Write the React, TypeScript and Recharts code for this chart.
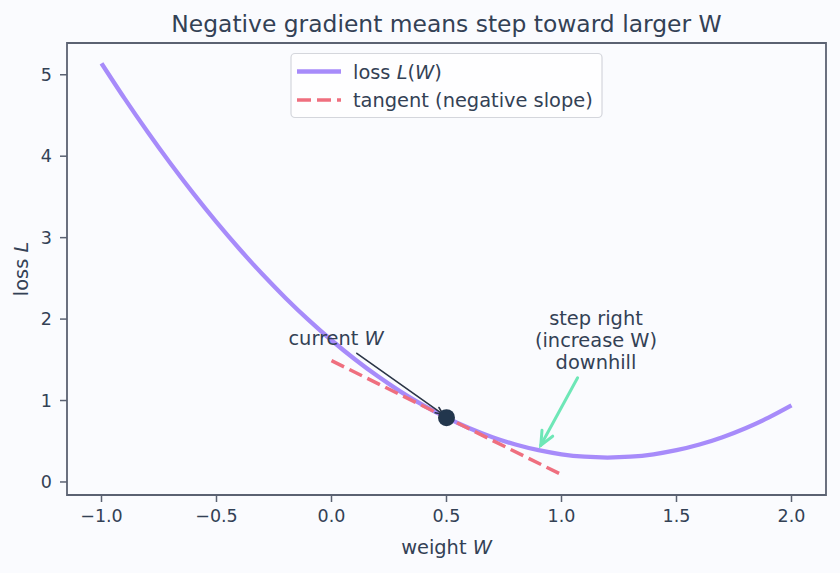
import React from 'react';
import {
  ComposedChart,
  Line,
  XAxis,
  YAxis,
  ReferenceLine,
  ReferenceDot,
  ReferenceArea,
} from 'recharts';

// ---- data ----
const weights = [
  -1.0, -0.9, -0.8, -0.7, -0.6, -0.5, -0.4, -0.3, -0.2, -0.1,
  0.0, 0.1, 0.2, 0.3, 0.4, 0.5, 0.6, 0.7, 0.8, 0.9,
  1.0, 1.1, 1.2, 1.3, 1.4, 1.5, 1.6, 1.7, 1.8, 1.9, 2.0,
];
const lossValues = [
  5.14, 4.71, 4.3, 3.91, 3.54, 3.19, 2.86, 2.55, 2.26, 1.99,
  1.74, 1.51, 1.3, 1.11, 0.94, 0.79, 0.66, 0.55, 0.46, 0.39,
  0.34, 0.31, 0.3, 0.31, 0.34, 0.39, 0.46, 0.55, 0.66, 0.79, 0.94,
];
const tangentWeights = [0.0, 1.0];
const tangentValues = [1.49, 0.09];
const currentPoint = { w: 0.5, loss: 0.79 };
const xTicks = [-1.0, -0.5, 0.0, 0.5, 1.0, 1.5, 2.0];
const yTicks = [0, 1, 2, 3, 4, 5];
const xDomain = [-1.15, 2.15];
const yDomain = [-0.16, 5.39];
const currentArrow = [
  { w: 0.11, loss: 1.58 },
  { w: 0.485, loss: 0.83 },
];
const stepArrow = [
  { w: 1.07, loss: 1.28 },
  { w: 0.91, loss: 0.45 },
];
const currentLabelPos = { w: 0.02, loss: 1.77 };
const stepLabelPos = { w: 1.15, loss: 1.74 };
const stepLabelLines = ['step right', '(increase W)', 'downhill'];
const titleText = 'Negative gradient means step toward larger W';

const lossData = weights.map((w, i) => ({ w, loss: lossValues[i] }));
const tangentData = tangentWeights.map((w, i) => ({ w, tangent: tangentValues[i] }));

// ---- styles ----
const FONT = "'DejaVu Sans', sans-serif";
const TEXT = '#334155';
const FRAME = '#5b6272';
const LOSS_COLOR = '#a78bfa';
const TANGENT_COLOR = '#ef6f7f';
const GREEN = '#6ee7b7';
const DARK = '#2b3547';
const POINT = '#22364d';
const BG = '#fafbfe';

const W = 840;
const H = 573;
const PLOT = { left: 67, top: 43, right: 826, bottom: 495 };

const fmt = (v: number) => v.toFixed(1).replace('-', '\u2212');

function arrowShape(color: string, width: number, headLen: number) {
  return (props: any) => {
    const { x1, y1, x2, y2 } = props;
    const ang = Math.atan2(y2 - y1, x2 - x1);
    const spread = (24 * Math.PI) / 180;
    const ax = x2 - headLen * Math.cos(ang - spread);
    const ay = y2 - headLen * Math.sin(ang - spread);
    const bx = x2 - headLen * Math.cos(ang + spread);
    const by = y2 - headLen * Math.sin(ang + spread);
    return (
      <g>
        <line x1={x1} y1={y1} x2={x2} y2={y2} stroke={color} strokeWidth={width} strokeLinecap="round" />
        <polyline
          points={`${ax},${ay} ${x2},${y2} ${bx},${by}`}
          fill="none"
          stroke={color}
          strokeWidth={width}
          strokeLinecap="round"
          strokeLinejoin="miter"
        />
      </g>
    );
  };
}

export default function App() {
  const cx = (PLOT.left + PLOT.right) / 2;
  const cy = (PLOT.top + PLOT.bottom) / 2;
  return (
    <div style={{ position: 'absolute', left: 0, top: 0, width: W, height: H, background: BG, fontFamily: FONT }}>
      <ComposedChart
        width={W}
        height={H}
        margin={{ top: PLOT.top, right: W - PLOT.right, bottom: 0, left: 0 }}
      >
        <XAxis
          dataKey="w"
          type="number"
          domain={xDomain}
          allowDataOverflow
          ticks={xTicks}
          tickFormatter={fmt}
          height={H - PLOT.bottom}
          axisLine={false}
          tickLine={{ stroke: FRAME, strokeWidth: 1.5 }}
          tickSize={7}
          tickMargin={8}
          tick={{ fill: TEXT, fontSize: 17.5, fontFamily: FONT }}
        />
        <YAxis
          type="number"
          domain={yDomain}
          allowDataOverflow
          ticks={yTicks}
          width={PLOT.left}
          axisLine={false}
          tickLine={{ stroke: FRAME, strokeWidth: 1.5 }}
          tickSize={7}
          tickMargin={8}
          tick={{ fill: TEXT, fontSize: 17.5, fontFamily: FONT }}
        />
        <ReferenceArea
          x1={xDomain[0]}
          x2={xDomain[1]}
          y1={yDomain[0]}
          y2={yDomain[1]}
          fill="none"
          fillOpacity={0}
          stroke={FRAME}
          strokeWidth={1.8}
          ifOverflow="visible"
        />
        <Line
          data={lossData}
          dataKey="loss"
          type="monotone"
          stroke={LOSS_COLOR}
          strokeWidth={4.3}
          dot={false}
          isAnimationActive={false}
          name="loss L(W)"
        />
        <Line
          data={tangentData}
          dataKey="tangent"
          type="linear"
          stroke={TANGENT_COLOR}
          strokeWidth={3.5}
          strokeDasharray="14 6"
          dot={false}
          isAnimationActive={false}
          name="tangent (negative slope)"
        />
        <ReferenceLine
          segment={[
            { x: currentArrow[0].w, y: currentArrow[0].loss },
            { x: currentArrow[1].w, y: currentArrow[1].loss },
          ]}
          shape={arrowShape(DARK, 1.6, 8)}
        />
        <ReferenceLine
          segment={[
            { x: stepArrow[0].w, y: stepArrow[0].loss },
            { x: stepArrow[1].w, y: stepArrow[1].loss },
          ]}
          shape={arrowShape(GREEN, 3, 15)}
        />
        <ReferenceDot x={currentPoint.w} y={currentPoint.loss} r={8.5} fill={POINT} stroke="none" />
        <ReferenceDot
          x={currentLabelPos.w}
          y={currentLabelPos.loss}
          r={0}
          shape={(p: any) => (
            <text x={p.cx} y={p.cy} dy={7} textAnchor="middle" fill={TEXT} fontSize={19.4} fontFamily={FONT}>
              current <tspan fontStyle="italic">W</tspan>
            </text>
          )}
        />
        <ReferenceDot
          x={stepLabelPos.w}
          y={stepLabelPos.loss}
          r={0}
          shape={(p: any) => (
            <text x={p.cx} y={p.cy} textAnchor="middle" fill={TEXT} fontSize={19.4} fontFamily={FONT}>
              {stepLabelLines.map((s, i) => (
                <tspan key={i} x={p.cx} y={p.cy + 7 + (i - 1) * 22}>
                  {s}
                </tspan>
              ))}
            </text>
          )}
        />
      </ComposedChart>
      <svg
        width={W}
        height={H}
        style={{ position: 'absolute', left: 0, top: 0, pointerEvents: 'none' }}
      >
        <text x={cx} y={32} textAnchor="middle" fill={TEXT} fontSize={23.4} fontFamily={FONT}>
          {titleText}
        </text>
        <text x={cx} y={554} textAnchor="middle" fill={TEXT} fontSize={19.4} fontFamily={FONT}>
          weight <tspan fontStyle="italic">W</tspan>
        </text>
        <text
          x={28}
          y={cy}
          transform={`rotate(-90 28 ${cy})`}
          textAnchor="middle"
          fill={TEXT}
          fontSize={19.4}
          fontFamily={FONT}
        >
          loss <tspan fontStyle="italic">L</tspan>
        </text>
        <g>
          <rect x={291} y={53.5} width={311} height={64} rx={4} fill="#ffffff" fillOpacity={0.8} stroke="#d4d6dc" strokeWidth={1.2} />
          <line x1={297} y1={71.5} x2={341} y2={71.5} stroke={LOSS_COLOR} strokeWidth={4.3} />
          <text x={353} y={78.5} fill={TEXT} fontSize={19.4} fontFamily={FONT}>
            loss <tspan fontStyle="italic">L</tspan>(<tspan fontStyle="italic">W</tspan>)
          </text>
          <line x1={297} y1={100} x2={341} y2={100} stroke={TANGENT_COLOR} strokeWidth={3.5} strokeDasharray="14 6" />
          <text x={353} y={107} fill={TEXT} fontSize={19.4} fontFamily={FONT}>
            tangent (negative slope)
          </text>
        </g>
      </svg>
    </div>
  );
}
